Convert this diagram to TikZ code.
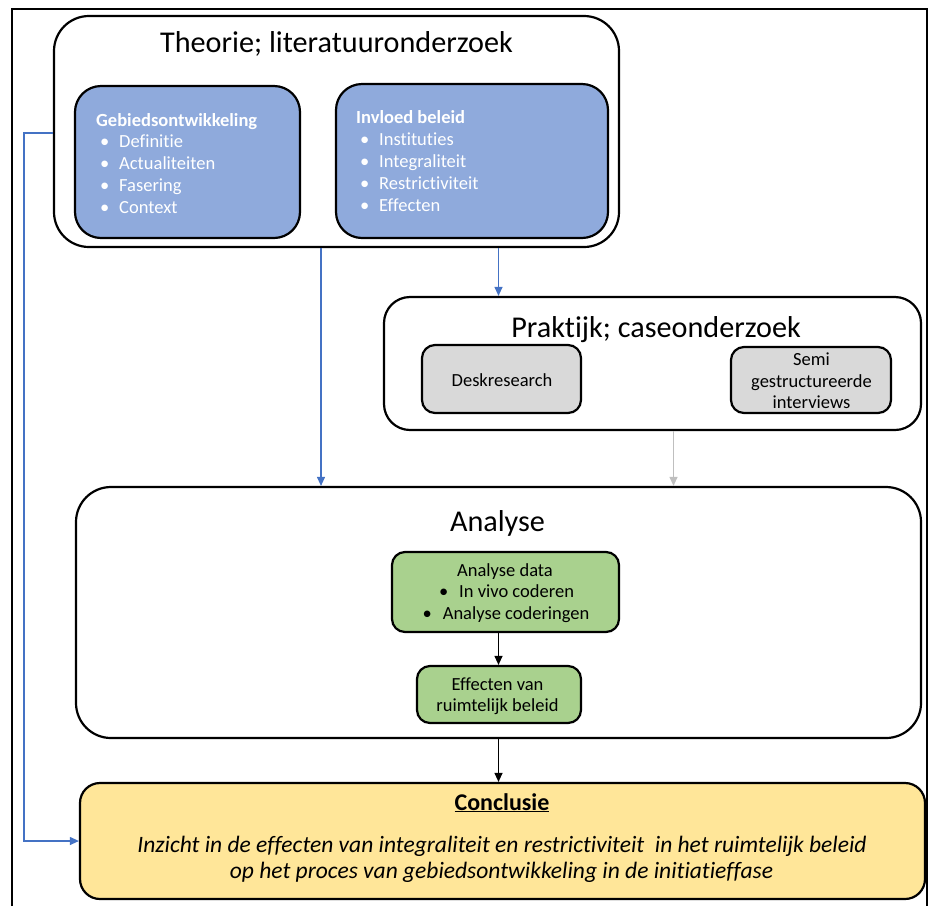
\documentclass[tikz,border=0pt]{standalone}
\usepackage{fontspec}
\setmainfont{Carlito}[Ligatures={NoCommon,NoContextual}]
\usetikzlibrary{arrows.meta}
\definecolor{boxblue}{HTML}{8FAADC}
\definecolor{arrowblue}{HTML}{4472C4}
\definecolor{boxgray}{HTML}{D9D9D9}
\definecolor{boxgreen}{HTML}{A9D18E}
\definecolor{boxyellow}{HTML}{FFE699}
\definecolor{arrowgray}{HTML}{BFBFBF}
\begin{document}
\begin{tikzpicture}[x=1pt,y=-1pt,
  frameline/.style={line width=1.4pt},
  panel/.style={draw, line width=2.2pt, rounded corners=#1, inner sep=0pt},
  title/.style={inner sep=0pt, anchor=base, font=\fontsize{30.2}{36}\selectfont},
  wtxt/.style={inner sep=0pt, anchor=base west, text=white, font=\fontsize{18.5}{22}\selectfont},
  ctxt/.style={inner sep=0pt, anchor=base, font=\fontsize{18.5}{22}\selectfont},
  conn/.style={line width=1.1pt, -{Triangle[width=8pt,length=9pt]}},
]
\useasboundingbox (0,0) rectangle (934,906);
% outer frame (open at the bottom)
\draw[frameline] (12,906) -- (12,9) -- (927,9) -- (927,906);

% Theorie
\node[panel=35pt, minimum width=565pt, minimum height=231pt] (theorie) at (336.5,131.5) {};
\node[title] (theorietitle) at (336.5,52) {Theorie; literatuuronderzoek};
\node[panel=26pt, fill=boxblue, minimum width=225pt, minimum height=152pt] (gebied) at (187.5,162) {};
\node[panel=26pt, fill=boxblue, minimum width=272pt, minimum height=154pt] (invloed) at (472,161) {};
\node[wtxt, font=\fontsize{18.5}{22}\selectfont\bfseries] (g0) at (96,126) {Gebiedsontwikkeling};
\foreach \t/\yy [count=\i] in {Definitie/147,Actualiteiten/169,Fasering/191,Context/213}{
  \node[wtxt] (gb\i) at (100,\yy) {•};
  \node[wtxt] (g\i) at (119,\yy) {\t};
}
\node[wtxt, font=\fontsize{18.5}{22}\selectfont\bfseries] (i0) at (356,123.5) {Invloed beleid};
\foreach \t/\yy [count=\i] in {Instituties/145,Integraliteit/167,Restrictiviteit/189,Effecten/211}{
  \node[wtxt] (ib\i) at (360,\yy) {•};
  \node[wtxt] (i\i) at (379,\yy) {\t};
}

% Praktijk
\node[panel=26pt, minimum width=537pt, minimum height=133pt] (praktijk) at (652.5,363.5) {};
\node[title] (praktijktitle) at (656,337) {Praktijk; caseonderzoek};
\node[panel=13pt, fill=boxgray, minimum width=159pt, minimum height=68pt] (desk) at (501.5,379) {};
\node[ctxt] (desktxt) at (502,386) {Deskresearch};
\node[panel=13pt, fill=boxgray, minimum width=160pt, minimum height=66pt] (semi) at (811,380) {};
\node[ctxt] (semi1) at (811.5,365) {Semi};
\node[ctxt] (semi2) at (811.5,387) {gestructureerde};
\node[ctxt] (semi3) at (811.5,408) {interviews};

% Analyse
\node[panel=35pt, minimum width=845pt, minimum height=251pt] (analyse) at (498.5,612.5) {};
\node[title] (analysetitle) at (497.5,531.5) {Analyse};
\node[panel=13pt, fill=boxgreen, minimum width=227pt, minimum height=80pt] (adata) at (505.5,592) {};
\node[ctxt] (ad1) at (505,576.5) {Analyse data};
\node[ctxt] (ad2) at (506.5,597.5) {•\hspace{11pt}In vivo coderen};
\node[ctxt] (ad3) at (506,619.5) {•\hspace{11pt}Analyse coderingen};
\node[panel=13pt, fill=boxgreen, minimum width=164pt, minimum height=57pt] (effecten) at (499,694.5) {};
\node[ctxt] (ef1) at (497.5,690.5) {Effecten van};
\node[ctxt] (ef2) at (497.5,711) {ruimtelijk beleid};

% Conclusie
\node[panel=20pt, fill=boxyellow, minimum width=845pt, minimum height=116pt] (conclusie) at (502.5,841) {};
\node[inner sep=0pt, anchor=base, font=\fontsize{24}{28}\selectfont\bfseries] (ctitle) at (502,810) {\underline{Conclusie}};
\node[inner sep=0pt, anchor=base, font=\fontsize{23.5}{26}\selectfont\itshape] (cl1) at (502,852.5) {Inzicht in de effecten van integraliteit en restrictiviteit \ in het ruimtelijk beleid};
\node[inner sep=0pt, anchor=base, font=\fontsize{23.5}{26}\selectfont\itshape] (cl2) at (501.5,878) {op het proces van gebiedsontwikkeling in de initiatieffase};

% connectors
\coordinate (xa) at (321,0);
\coordinate (xb) at (498.5,0);
\coordinate (xc) at (673.5,0);
\coordinate (xl) at (24,0);
\coordinate (yl) at (0,133);
\draw[conn, arrowblue] (theorie.south -| xa) -- (analyse.north -| xa);
\draw[conn, arrowblue] (theorie.south -| xb) -- (praktijk.north -| xb);
\draw[conn, arrowgray] (praktijk.south -| xc) -- (analyse.north -| xc);
\draw[conn, black] (adata.south -| xb) -- (effecten.north -| xb);
\draw[conn, black] (analyse.south -| xb) -- (conclusie.north -| xb);
\draw[conn, arrowblue] (theorie.west |- yl) -- (xl |- yl) -- (xl |- conclusie.west) -- (conclusie.west);
\end{tikzpicture}
\end{document}
